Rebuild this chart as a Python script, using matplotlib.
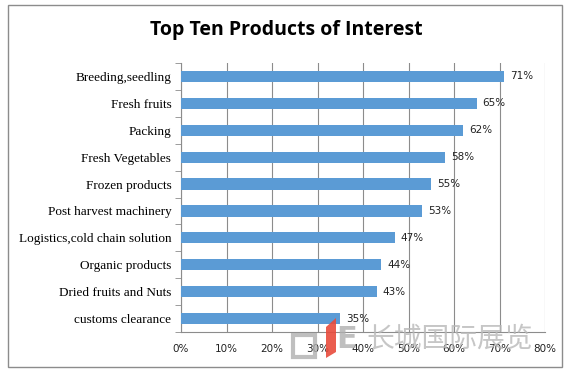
import matplotlib.pyplot as plt
from matplotlib.patches import Rectangle, Polygon

# data (top to bottom as shown)
products = ['Breeding,seedling', 'Fresh fruits', 'Packing', 'Fresh Vegetables',
            'Frozen products', 'Post harvest machinery',
            'Logistics,cold chain solution', 'Organic products',
            'Dried fruits and Nuts', 'customs clearance']
shares = [71, 65, 62, 58, 55, 53, 47, 44, 43, 35]
xticks = [0, 10, 20, 30, 40, 50, 60, 70, 80]

W, H = 571, 375
fig = plt.figure(figsize=(W / 100, H / 100), dpi=100)
fig.patch.set_facecolor('white')

# chart area border
fig.patches.append(Rectangle((8 / W, 1 - 367 / H), 554 / W, 362 / H,
                             transform=fig.transFigure, fill=False,
                             edgecolor='#8c8c8c', lw=1.0))

ax = fig.add_axes([181 / W, 1 - 332 / H, 364 / W, 269 / H])

n = len(products)
ypos = list(range(n))[::-1]
ax.barh(ypos, shares, height=0.42, color='#5b9bd5', zorder=3)

for y, v in zip(ypos, shares):
    ax.text(v + 1.3, y, f'{v}%', va='center', ha='left', fontsize=7.5,
            color='#222222', family='DejaVu Sans')

ax.set_xlim(0, 80)
ax.set_ylim(-0.5, n - 0.5)
ax.set_xticks(xticks)
ax.set_xticklabels([f'{t}%' for t in xticks], fontsize=7.5, color='#222222')
ax.set_yticks(ypos)
ax.set_yticklabels(products, fontsize=9.5, family='Liberation Serif')
ax.tick_params(axis='y', length=0, pad=7)
ax.tick_params(axis='x', length=0, pad=9)

# category separator ticks on the left axis
ax.set_yticks([i - 0.5 for i in range(n + 1)], minor=True)
ax.tick_params(axis='y', which='minor', length=4, color='#8c8c8c', direction='out')

ax.grid(axis='x', color='#8c8c8c', lw=0.8, zorder=0)
for s in ['top', 'right']:
    ax.spines[s].set_visible(False)
ax.spines['left'].set_color('#8c8c8c')
ax.spines['bottom'].set_color('#8c8c8c')

fig.text(286 / W, 1 - 30 / H, 'Top Ten Products of Interest', ha='center',
         va='center', fontsize=14, fontweight='bold', family='Open Sans')

# watermark overlay
fig.patches.append(Rectangle((293 / W, 1 - 357 / H), 22 / W, 22 / H,
                             transform=fig.transFigure, fill=False,
                             edgecolor='#b0b0b0', lw=3, alpha=0.8))
fig.patches.append(Polygon([(326 / W, 1 - 327 / H), (336 / W, 1 - 318 / H),
                            (336 / W, 1 - 352 / H), (326 / W, 1 - 358 / H)],
                           closed=True, transform=fig.transFigure,
                           facecolor='#e84b3c', alpha=0.9))
fig.text(336 / W, 1 - 340 / H, 'E', fontsize=22, color='#b0b0b0', alpha=0.8,
         va='center', ha='left', family='DejaVu Sans', fontweight='bold')
fig.text(366 / W, 1 - 339 / H, '长城国际展览', fontsize=20, color='#b8b8b8',
         alpha=0.8, va='center', ha='left',
         family=['Noto Sans CJK SC', 'DejaVu Sans'])

fig.savefig('out.png', dpi=100)
